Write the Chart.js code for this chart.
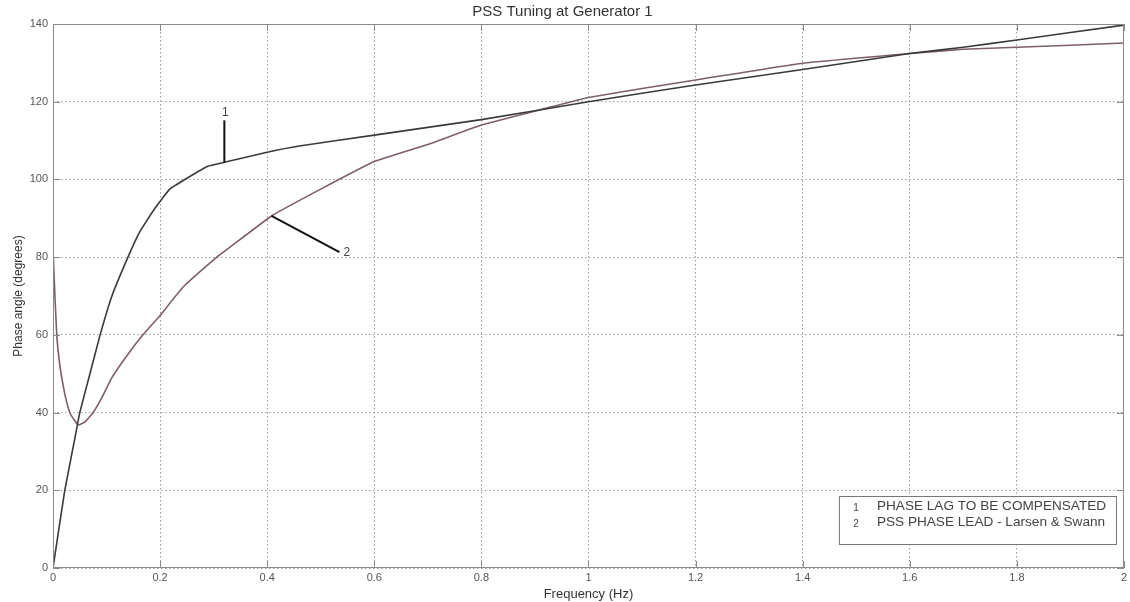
<!DOCTYPE html>
<html>
<head>
<meta charset="utf-8">
<script src="https://cdn.jsdelivr.net/npm/chart.js@4"></script>
<style>
  html, body { margin: 0; padding: 0; background: #fff; }
  #wrap { width: 1130px; height: 602px; }
</style>
</head>
<body>
<div id="wrap"><canvas id="chart" width="1130" height="602"></canvas></div>
<script>
// curve 1: phase lag to be compensated (Hz, degrees)
const lagFreq = [0, 0.022, 0.041, 0.05, 0.069, 0.088, 0.11, 0.14, 0.162, 0.19, 0.218, 0.25, 0.289, 0.32, 0.4, 0.46, 0.6, 0.8, 1.0, 1.2, 1.4, 1.6, 1.7, 1.8, 2.0];
const lagDeg  = [0, 20, 33.5, 40, 50, 60, 70, 80, 86.5, 92.5, 97.5, 100.3, 103.4, 104.4, 107, 108.6, 111.4, 115.4, 120, 124.3, 128.3, 132.4, 134, 135.9, 139.7];

// curve 2: PSS phase lead - Larsen & Swann
const leadFreq = [0, 0.003, 0.007, 0.012, 0.017, 0.025, 0.033, 0.047, 0.06, 0.075, 0.09, 0.11, 0.14, 0.168, 0.2, 0.243, 0.306, 0.33, 0.408, 0.5, 0.6, 0.7, 0.8, 0.92, 1.0, 1.2, 1.4, 1.6, 1.7, 1.8, 2.0];
const leadDeg  = [82.3, 72, 60, 53, 48.5, 43, 39.5, 36.8, 37.6, 40, 43.5, 49, 55, 60, 65, 72.3, 80, 82.5, 90.6, 97.5, 104.6, 109, 114, 118.3, 121.1, 125.6, 129.9, 132.4, 133.5, 134, 135.1];

const xTicks = [0, 0.2, 0.4, 0.6, 0.8, 1, 1.2, 1.4, 1.6, 1.8, 2];
const yTicks = [0, 20, 40, 60, 80, 100, 120, 140];

const legendNums = ['1', '2'];
const legendTexts = ['PHASE LAG TO BE COMPENSATED', 'PSS PHASE LEAD - Larsen & Swann'];

// callout labels: [label, fromX, fromY, toX, toY]
const callouts = [
  ['1', 0.32, 104.4, 0.32, 115.2],
  ['2', 0.408, 90.6, 0.535, 81.3]
];

const FONT = '"Liberation Sans", Arial, sans-serif';
const toPts = (xs, ys) => xs.map((x, i) => ({ x: x, y: ys[i] }));

const frameAndExtras = {
  id: 'frameAndExtras',
  afterDatasetsDraw(chart) {
    const ctx = chart.ctx;
    const a = chart.chartArea;
    const xs = chart.scales.x, ys = chart.scales.y;
    ctx.save();
    // frame
    ctx.strokeStyle = '#8a8a8a';
    ctx.lineWidth = 1;
    ctx.strokeRect(a.left + 0.5, a.top + 0.5, a.right - a.left - 1, a.bottom - a.top - 1);
    // inward ticks
    ctx.beginPath();
    xTicks.forEach(v => {
      const px = Math.round(xs.getPixelForValue(v)) + 0.5;
      ctx.moveTo(px, a.bottom); ctx.lineTo(px, a.bottom - 7);
      ctx.moveTo(px, a.top); ctx.lineTo(px, a.top + 7);
    });
    yTicks.forEach(v => {
      const py = Math.round(ys.getPixelForValue(v)) + 0.5;
      ctx.moveTo(a.left, py); ctx.lineTo(a.left + 7, py);
      ctx.moveTo(a.right, py); ctx.lineTo(a.right - 7, py);
    });
    ctx.stroke();

    // callouts
    ctx.strokeStyle = '#111';
    ctx.lineWidth = 2;
    ctx.fillStyle = '#444';
    ctx.font = '12px ' + FONT;
    callouts.forEach(c => {
      const x0 = xs.getPixelForValue(c[1]), y0 = ys.getPixelForValue(c[2]);
      const x1 = xs.getPixelForValue(c[3]), y1 = ys.getPixelForValue(c[4]);
      ctx.beginPath(); ctx.moveTo(x0, y0); ctx.lineTo(x1, y1); ctx.stroke();
      if (x1 === x0) {
        ctx.textAlign = 'center'; ctx.textBaseline = 'bottom';
        ctx.fillText(c[0], x1 + 1, y1 - 2);
      } else {
        ctx.textAlign = 'left'; ctx.textBaseline = 'middle';
        ctx.fillText(c[0], x1 + 4, y1 + 1);
      }
    });

    // legend box
    const bw = 277, bh = 48;
    const bx = a.right - 8 - bw, by = a.bottom - 24 - bh;
    ctx.fillStyle = '#fff';
    ctx.fillRect(bx, by, bw, bh);
    ctx.strokeStyle = '#777';
    ctx.lineWidth = 1;
    ctx.strokeRect(bx + 0.5, by + 0.5, bw, bh);
    ctx.textBaseline = 'middle';
    legendTexts.forEach((t, i) => {
      const ty = by + 10 + i * 16.5;
      ctx.fillStyle = '#444';
      ctx.font = '10px ' + FONT;
      ctx.textAlign = 'center';
      ctx.fillText(legendNums[i], bx + 17, ty + 2);
      ctx.font = '13.6px ' + FONT;
      ctx.textAlign = 'left';
      ctx.fillText(t, bx + 38, ty);
    });
    ctx.restore();
  }
};

new Chart(document.getElementById('chart'), {
  type: 'scatter',
  data: {
    datasets: [
      {
        label: legendTexts[0],
        data: toPts(lagFreq, lagDeg),
        showLine: true,
        borderColor: '#3a3a3a',
        borderWidth: 1.6,
        pointRadius: 0,
        tension: 0.1,
        order: 1
      },
      {
        label: legendTexts[1],
        data: toPts(leadFreq, leadDeg),
        showLine: true,
        borderColor: '#7e5f63',
        borderWidth: 1.6,
        pointRadius: 0,
        tension: 0.1,
        order: 2
      }
    ]
  },
  options: {
    responsive: false,
    animation: false,
    layout: { padding: { left: 0, right: 5, top: 0, bottom: 0 } },
    plugins: {
      legend: { display: false },
      tooltip: { enabled: false },
      title: {
        display: true,
        text: 'PSS Tuning at Generator 1',
        color: '#333',
        font: { family: FONT, size: 15, weight: 'normal', lineHeight: 1.2 },
        padding: { top: 3, bottom: 3 }
      }
    },
    scales: {
      x: {
        type: 'linear',
        min: 0, max: 2,
        afterBuildTicks: s => { s.ticks = xTicks.map(v => ({ value: v })); },
        afterFit: s => { s.height = 34; },
        ticks: {
          color: '#555',
          padding: 3,
          font: { family: FONT, size: 11 },
          callback: v => String(v)
        },
        grid: { color: '#9a9a9a', lineWidth: 1, drawTicks: false },
        border: { display: false, dash: [1.5, 2.5] },
        title: {
          display: true,
          text: 'Frequency (Hz)',
          color: '#333',
          padding: { top: 0, bottom: 0 },
          font: { family: FONT, size: 13 }
        }
      },
      y: {
        type: 'linear',
        min: 0, max: 140,
        afterBuildTicks: s => { s.ticks = yTicks.map(v => ({ value: v })); },
        afterFit: s => { s.width = 53; },
        ticks: {
          color: '#555',
          padding: 5,
          font: { family: FONT, size: 11 }
        },
        grid: { color: '#9a9a9a', lineWidth: 1, drawTicks: false },
        border: { display: false, dash: [1.5, 2.5] },
        title: {
          display: true,
          text: 'Phase angle (degrees)',
          color: '#333',
          padding: { top: 11, bottom: 0 },
          font: { family: FONT, size: 12 }
        }
      }
    }
  },
  plugins: [frameAndExtras]
});
</script>
</body>
</html>
